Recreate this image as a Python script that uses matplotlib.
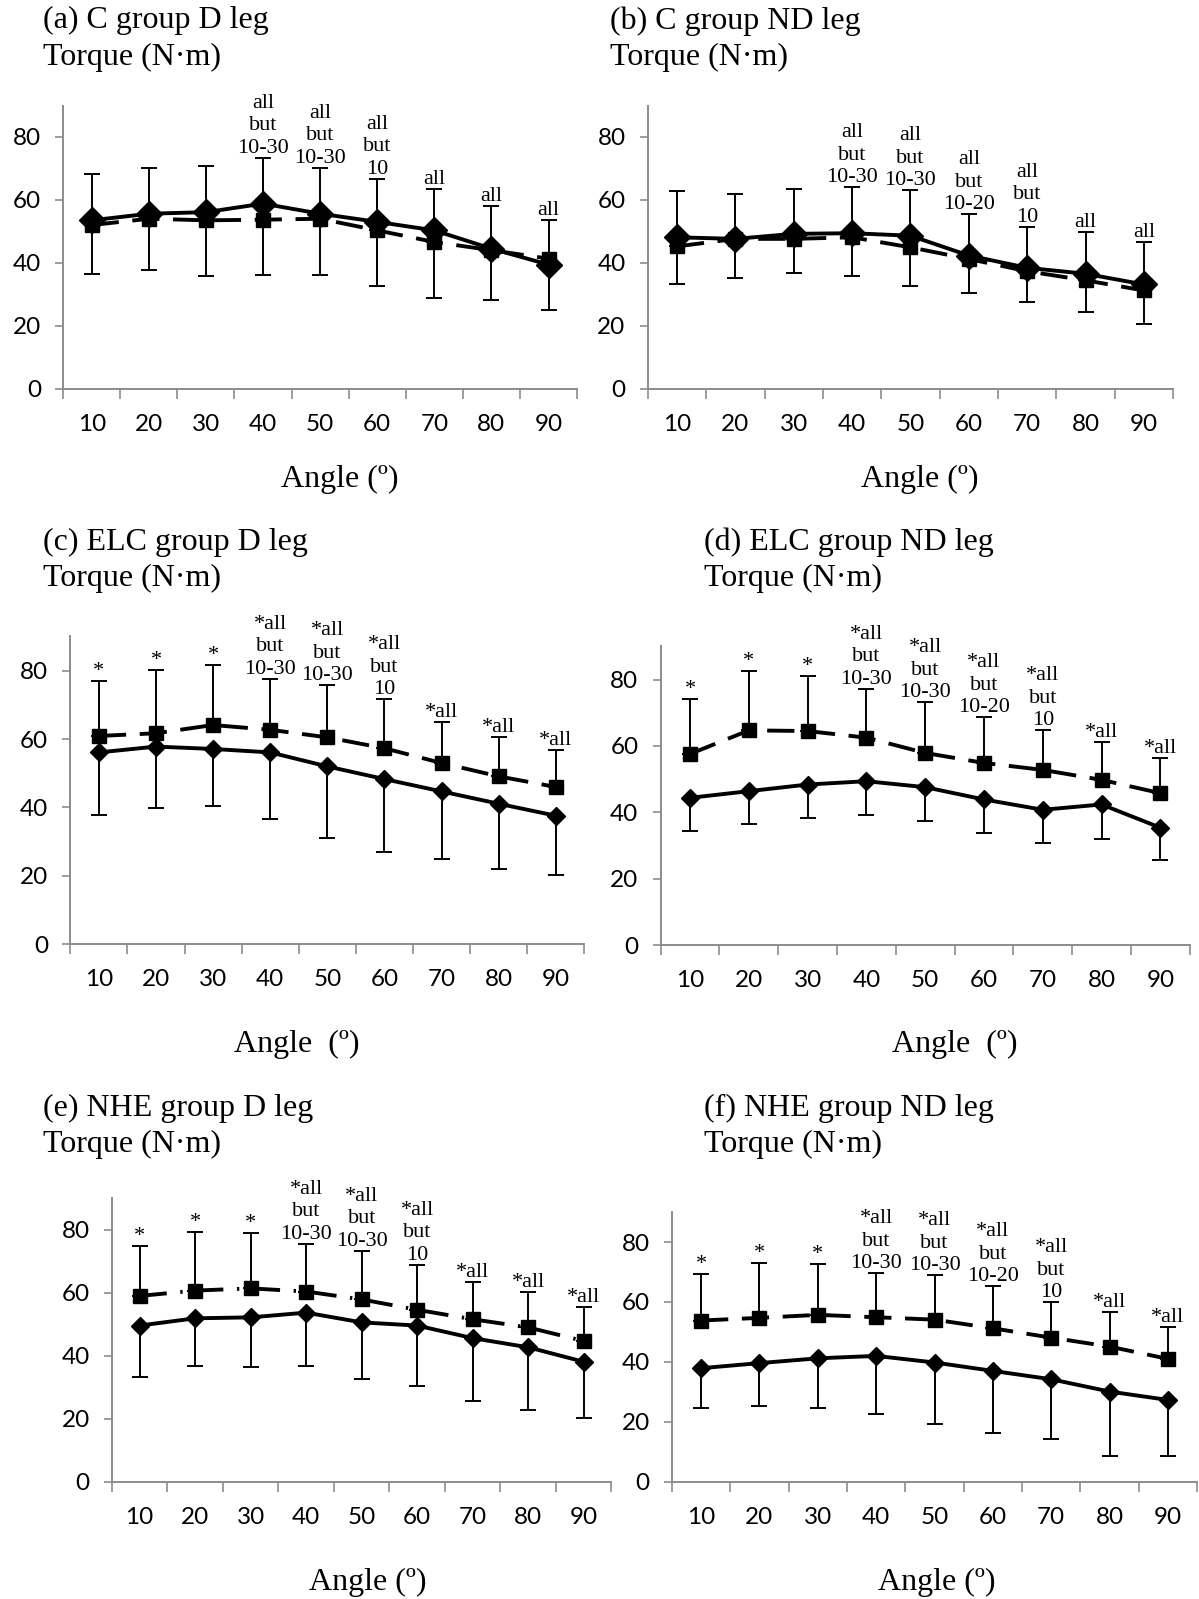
import numpy as np
import matplotlib.pyplot as plt

# angles (categories on x axis)
angles = ['10', '20', '30', '40', '50', '60', '70', '80', '90']

# (a) C group D leg
a_sq = [52.0, 54.0, 53.5, 53.7, 54.0, 50.3, 46.6, 44.0, 41.3]
a_sq_sd = [16.1, 16.2, 17.2, 19.7, 16.2, 16.4, 16.7, 13.9, 12.2]
a_dm = [53.5, 55.6, 56.1, 58.8, 55.6, 53.0, 50.3, 44.5, 39.4]
a_dm_sd = [17.2, 18.0, 20.2, 22.8, 19.6, 20.5, 21.4, 16.4, 14.5]
a_notes = ['', '', '', 'all\nbut\n10-30', 'all\nbut\n10-30', 'all\nbut\n10',
           'all', 'all', 'all']

# (b) C group ND leg
b_sq = [45.2, 47.6, 47.6, 48.1, 44.9, 41.2, 37.3, 34.4, 31.2]
b_sq_sd = [17.5, 14.2, 15.8, 15.9, 18.2, 14.3, 14.2, 15.5, 15.5]
b_dm = [48.1, 47.6, 49.2, 49.4, 48.6, 42.3, 38.4, 36.5, 33.1]
b_dm_sd = [14.8, 12.5, 12.4, 13.7, 16.0, 11.9, 10.9, 12.2, 12.7]
b_notes = ['', '', '', 'all\nbut\n10-30', 'all\nbut\n10-30', 'all\nbut\n10-20',
           'all\nbut\n10', 'all', 'all']

# (c) ELC group D leg
c_sq = [60.9, 61.7, 64.1, 62.7, 60.5, 57.3, 53.0, 49.1, 46.0]
c_sq_sd = [16.1, 18.5, 17.4, 14.9, 15.2, 14.3, 11.9, 11.4, 10.7]
c_dm = [56.1, 57.8, 57.1, 56.1, 52.0, 48.3, 44.7, 41.1, 37.6]
c_dm_sd = [18.2, 18.0, 16.8, 19.4, 21.0, 21.4, 19.7, 19.1, 17.4]
c_notes = ['*', '*', '*', '*all\nbut\n10-30', '*all\nbut\n10-30', '*all\nbut\n10',
           '*all', '*all', '*all']

# (d) ELC group ND leg
d_sq = [57.6, 64.7, 64.5, 62.5, 57.9, 54.9, 52.8, 49.8, 45.8]
d_sq_sd = [16.4, 17.9, 16.6, 14.7, 15.3, 13.8, 11.9, 11.3, 10.5]
d_dm = [44.4, 46.4, 48.4, 49.4, 47.6, 43.9, 40.8, 42.4, 35.4]
d_dm_sd = [10.0, 10.0, 10.1, 10.1, 10.2, 10.1, 10.0, 10.3, 9.8]
d_notes = ['*', '*', '*', '*all\nbut\n10-30', '*all\nbut\n10-30', '*all\nbut\n10-20',
           '*all\nbut\n10', '*all', '*all']

# (e) NHE group D leg
e_sq = [59.0, 60.7, 61.4, 60.4, 57.9, 54.6, 51.6, 49.0, 44.7]
e_sq_sd = [15.7, 18.5, 17.5, 15.1, 15.5, 14.3, 11.7, 11.2, 10.7]
e_dm = [49.6, 51.9, 52.2, 53.7, 50.6, 49.6, 45.6, 42.7, 38.1]
e_dm_sd = [16.4, 15.0, 15.9, 17.0, 18.1, 19.3, 20.1, 19.8, 18.0]
e_notes = c_notes

# (f) NHE group ND leg
f_sq = [53.8, 54.7, 55.7, 54.9, 54.1, 51.2, 48.1, 45.1, 41.0]
f_sq_sd = [15.6, 18.3, 17.1, 14.7, 14.8, 14.0, 11.8, 11.4, 10.8]
f_dm = [37.9, 39.6, 41.2, 42.0, 39.8, 37.0, 34.2, 30.1, 27.3]
f_dm_sd = [13.2, 14.3, 16.5, 19.5, 20.6, 20.6, 20.0, 21.5, 18.7]
f_notes = d_notes

serif = 'Liberation Serif'
sans = 'Lato'
grey = '#8c8c8c'


def draw_panel(ax, sq, sq_sd, dm, dm_sd, notes, dash, ms_dm):
    x = np.arange(len(angles)) + 0.5
    sq = np.array(sq)
    dm = np.array(dm)
    sq_sd = np.array(sq_sd)
    dm_sd = np.array(dm_sd)
    z = np.zeros(len(x))
    # one-sided error bars
    ax.errorbar(x, sq, yerr=[z, sq_sd], fmt='none', ecolor='black',
                elinewidth=1.4, capsize=6, capthick=1.4, zorder=2)
    ax.errorbar(x, dm, yerr=[dm_sd, z], fmt='none', ecolor='black',
                elinewidth=1.4, capsize=6, capthick=1.4, zorder=2)
    ax.plot(x, sq, color='black', lw=2.8, linestyle=dash, marker='s',
            markersize=10, zorder=3)
    ax.plot(x, dm, color='black', lw=2.8, linestyle='-', marker='D',
            markersize=ms_dm, zorder=4)
    for xi, top, t in zip(x, sq + sq_sd, notes):
        if t:
            ax.annotate(t, (xi, top), xytext=(0, 0), textcoords='offset points',
                        ha='center', va='bottom', fontsize=16, family=serif,
                        linespacing=1.25, zorder=5)
    ax.set_xlim(0, len(angles))
    ax.set_ylim(0, 90)
    ax.set_yticks([0, 20, 40, 60, 80])
    ax.set_xticks(np.arange(len(angles) + 1))
    ax.set_xticklabels([])
    ax.set_xticks(x, minor=True)
    ax.set_xticklabels(angles, minor=True)
    ax.tick_params(axis='x', which='major', length=7, color=grey, width=1.2,
                   direction='out')
    ax.tick_params(axis='x', which='minor', length=0, pad=18, labelsize=17.5)
    ax.tick_params(axis='y', length=6, color=grey, width=1.2, pad=10,
                   labelsize=17.5)
    for lab in ax.get_xticklabels(minor=True) + ax.get_yticklabels():
        lab.set_family(sans)
    for s in ['top', 'right']:
        ax.spines[s].set_visible(False)
    for s in ['left', 'bottom']:
        ax.spines[s].set_color(grey)
        ax.spines[s].set_linewidth(1.4)


fig = plt.figure(figsize=(11.99, 15.99), dpi=100)

dashed = (0, (7, 3.5))
dashdot = (0, (7, 3.5, 0.6, 3.5))

panels = [
    ([0.0527, 0.757, 0.4286, 0.177], a_sq, a_sq_sd, a_dm, a_dm_sd, a_notes, dashed, 13,
     '(a) C group D leg', 0.036, 0.987, 'Angle (º)', 0.283, 0.700),
    ([0.5403, 0.757, 0.4381, 0.177], b_sq, b_sq_sd, b_dm, b_dm_sd, b_notes, dashed, 13,
     '(b) C group ND leg', 0.5085, 0.987, 'Angle (º)', 0.767, 0.700),
    ([0.0587, 0.4094, 0.4286, 0.1926], c_sq, c_sq_sd, c_dm, c_dm_sd, c_notes, dashed, 9.5,
     '(c) ELC group D leg', 0.036, 0.661, 'Angle  (º)', 0.2474, 0.347),
    ([0.551, 0.4088, 0.4413, 0.187], d_sq, d_sq_sd, d_dm, d_dm_sd, d_notes, dashed, 9.5,
     '(d) ELC group ND leg', 0.587, 0.661, 'Angle  (º)', 0.796, 0.347),
    ([0.0933, 0.0733, 0.4167, 0.1773], e_sq, e_sq_sd, e_dm, e_dm_sd, e_notes, dashdot, 9.5,
     '(e) NHE group D leg', 0.036, 0.307, 'Angle (º)', 0.307, 0.0102),
    ([0.5604, 0.0733, 0.4381, 0.1687], f_sq, f_sq_sd, f_dm, f_dm_sd, f_notes, dashed, 9.5,
     '(f) NHE group ND leg', 0.587, 0.307, 'Angle (º)', 0.781, 0.0102),
]

for (rect, sq, sq_sd, dm, dm_sd, notes, dash, ms, title, tx, ty,
     xlab, lx, ly) in panels:
    ax = fig.add_axes(rect)
    draw_panel(ax, sq, sq_sd, dm, dm_sd, notes, dash, ms)
    fig.text(tx, ty, title, fontsize=23, family=serif, va='center', ha='left')
    fig.text(tx, ty - 0.023, 'Torque (N·m)', fontsize=23, family=serif,
             va='center', ha='left')
    fig.text(lx, ly, xlab, fontsize=23, family=serif, va='center', ha='center')

fig.savefig('out.png', dpi=100)
